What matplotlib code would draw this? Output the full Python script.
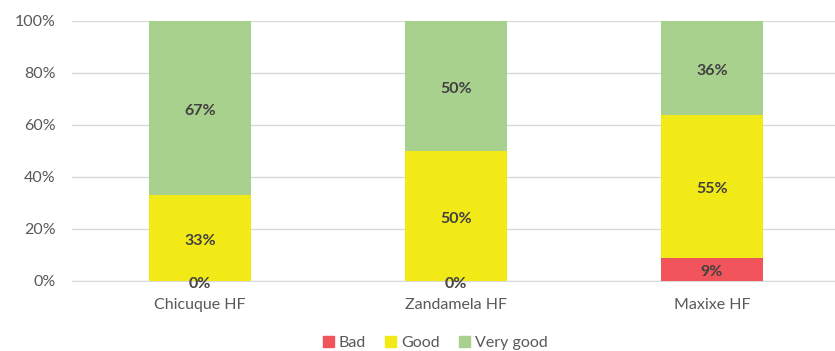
import numpy as np
import matplotlib.pyplot as plt
from matplotlib.patches import Patch
from matplotlib.transforms import offset_copy

categories = ['Chicuque HF', 'Zandamela HF', 'Maxixe HF']
bad = [0, 0, 9]
good = [33, 50, 55]
very_good = [67, 50, 36]

series = [('Bad', bad, '#F2545B'), ('Good', good, '#F2EA17'), ('Very good', very_good, '#A9D18E')]

plt.rcParams['font.family'] = ['Lato', 'DejaVu Sans']

fig = plt.figure(figsize=(8.35, 3.51), dpi=100)
ax = fig.add_axes([72 / 835, 1 - 281 / 351, 768 / 835, 260 / 351])

# labels sit a few pixels below the segment centre, as in the original
lbl_trans = offset_copy(ax.transData, fig=fig, x=0, y=-3, units='dots')

x = np.arange(len(categories))
bottom = np.zeros(len(categories))
for name, vals, color in series:
    vals = np.array(vals, dtype=float)
    ax.bar(x, vals, 0.4, bottom=bottom, color=color, label=name, zorder=3)
    for xi, b, v in zip(x, bottom, vals):
        ax.text(xi, b + v / 2, f'{int(v)}%', ha='center', va='center',
                fontsize=11.5, fontweight='bold', color='#404040', zorder=4,
                transform=lbl_trans)
    bottom += vals

ax.set_xlim(-0.5, 2.5)
ax.set_ylim(0, 100)
ax.set_yticks(range(0, 101, 20))
ax.set_yticklabels([f'{t}%' for t in range(0, 101, 20)])
ax.set_xticks(x)
ax.set_xticklabels(categories)
ax.tick_params(axis='both', length=0, labelsize=11.5, colors='#595959')
ax.tick_params(axis='x', pad=12)
ax.tick_params(axis='y', pad=12)
ax.grid(axis='y', color='#D9D9D9', linewidth=1, zorder=0)
for s in ['top', 'right', 'left']:
    ax.spines[s].set_visible(False)
ax.spines['bottom'].set_color('#D9D9D9')

handles = [Patch(color=c, label=n) for n, _, c in series]
fig.legend(handles=handles, loc='center', bbox_to_anchor=(435 / 835, 1 - 343 / 351),
           ncol=3, frameon=False, fontsize=11.5, handlelength=0.7, handleheight=0.7,
           handletextpad=0.3, columnspacing=1.2, labelcolor='#595959')

fig.savefig('out.png', dpi=100)
